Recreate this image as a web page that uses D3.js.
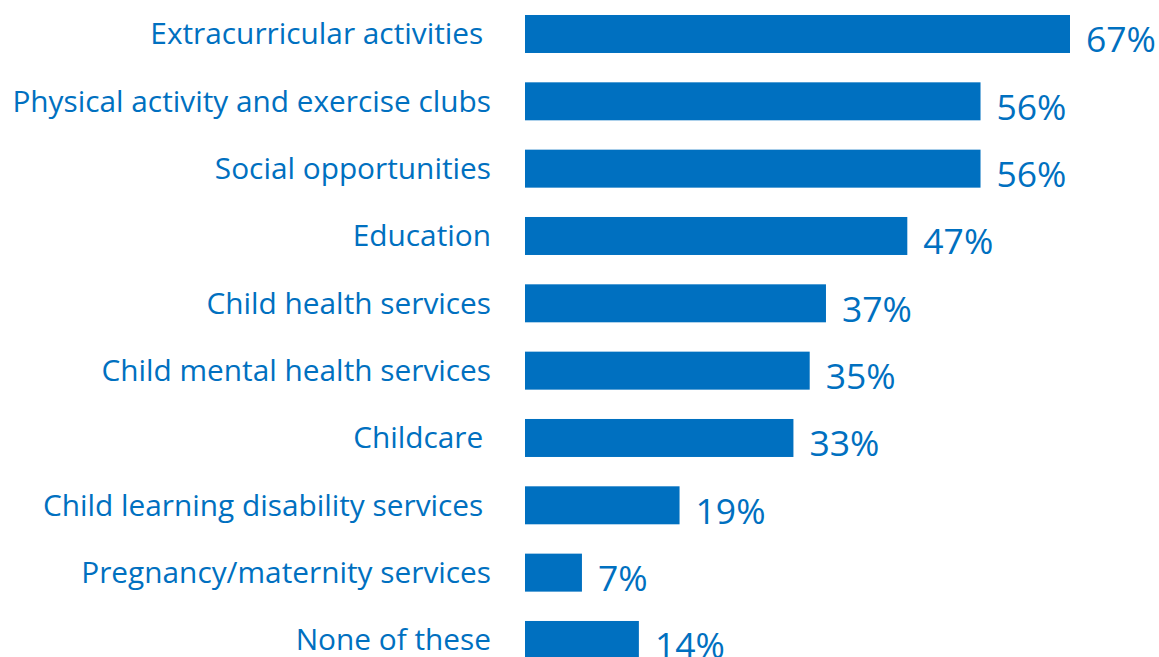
<!DOCTYPE html>
<html><head><meta charset="utf-8">
<script src="https://cdn.jsdelivr.net/npm/d3@7"></script>
<style>body{margin:0;background:#fff}svg{display:block}</style>
</head><body>
<svg id="c" width="1159" height="657"></svg>
<script>
const categories = ["Extracurricular activities ", "Physical activity and exercise clubs", "Social opportunities", "Education", "Child health services", "Child mental health services", "Childcare ", "Child learning disability services ", "Pregnancy/maternity services", "None of these"];
const values = [67, 56, 56, 47, 37, 35, 33, 19, 7, 14];
const color = "#0070C0";
const svg = d3.select("#c");
const x = d3.scaleLinear().domain([0, 67]).range([525, 1070]);
const y = d3.scaleBand().domain(categories).range([15 - 14.67, 15 - 14.67 + 67.33 * 10]).paddingInner(0.4357).paddingOuter(0.2178);
const font = "'Open Sans', 'Noto Sans', sans-serif";
svg.selectAll("rect.bar").data(categories).join("rect").attr("class","bar")
  .attr("x", x(0)).attr("y", d => y(d)).attr("height", y.bandwidth())
  .attr("width", (d,i) => x(values[i]) - x(0)).attr("fill", color);
svg.selectAll("text.cat").data(categories).join("text").attr("class","cat")
  .attr("x", 491).attr("y", d => y(d) + y.bandwidth()/2 + 10.5)
  .attr("text-anchor","end").style("white-space","pre")
  .attr("font-family", font).attr("font-size", 29.8).attr("fill", color).text(d => d);
svg.selectAll("text.val").data(categories).join("text").attr("class","val")
  .attr("x", (d,i) => x(values[i]) + 16).attr("y", d => y(d) + y.bandwidth() - 0.5)
  .attr("font-family", font).attr("font-size", 35.5).attr("fill", color).text((d,i) => values[i] + "%");
</script>
</body></html>
